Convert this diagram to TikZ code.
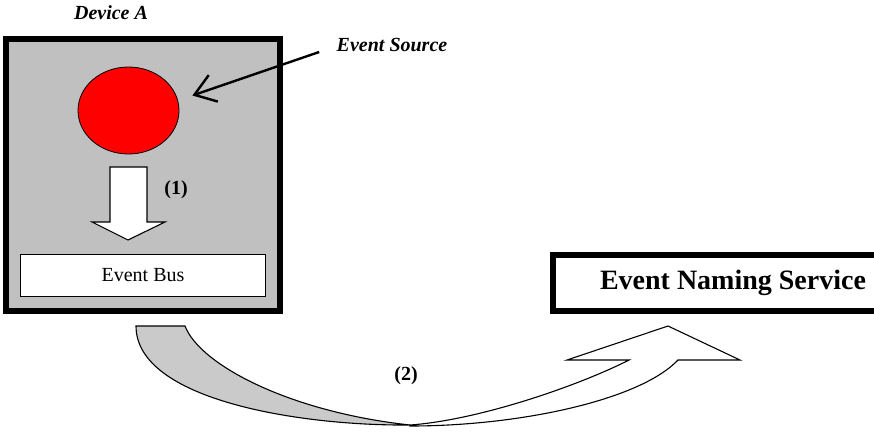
\documentclass[tikz,border=0pt]{standalone}
\usepackage{fontspec}
\setmainfont{Liberation Serif}
\usetikzlibrary{arrows.meta, shapes.geometric, positioning}
\definecolor{boxgray}{HTML}{C0C0C0}
\definecolor{bendgray}{HTML}{CACACA}
\definecolor{sourcered}{HTML}{FF0000}
\tikzset{
  devicebox/.style={draw, line width=5.5pt, fill=boxgray, minimum width=274pt, minimum height=272pt, inner sep=0pt},
  busbox/.style={draw, line width=1.3pt, fill=white, minimum width=245pt, minimum height=42pt, inner sep=0pt},
  servicebox/.style={draw, line width=5.5pt, fill=white, minimum width=360pt, minimum height=56pt, inner sep=0pt},
  pointer/.style={-{Straight Barb[length=20pt, width=28pt]}, line width=2.4pt},
  blockarrow/.style={draw, line width=1.1pt, fill=white},
  label/.style={font=\fontsize{20}{24}\selectfont\bfseries},
  every node/.append style={font=\fontsize{20}{24}\selectfont}
}

\begin{document}
\begin{tikzpicture}[x=1pt, y=-1pt]
\useasboundingbox (0,0) rectangle (874,440);
\clip (0,0) rectangle (874,440);
% device and its parts
\node (device) [devicebox] at (143,175) {};
\node (red) [ellipse, draw, line width=0.8pt, fill=sourcered, minimum width=101pt, minimum height=87pt, inner sep=0pt] at (128.5,110.5) {};
\node (bus) [busbox] at (143,275.5) {Event Bus};
\node (devname) [label, font=\fontsize{20}{24}\selectfont\bfseries\itshape] at (111,13) {Device A};
\node (srcname) [label, font=\fontsize{20}{24}\selectfont\bfseries\itshape] at (392,45) {Event Source};
\coordinate (srctail) at ([shift={(-14,7)}]srcname.west);
\coordinate (srctip) at ([shift={(13,-15)}]red.east);
\draw[pointer] (srctail) -- (srctip);
% step (1)
\draw[blockarrow] (110,167) -- (147,167) -- (147,222) -- (165,222) -- (128,240) -- (92,222) -- (110,222) -- cycle;
\node (one) [label] at (176,190) {(1)};
% naming service
\node (ens) [servicebox, font=\fontsize{28}{32}\selectfont\bfseries] at (733,283) {Event Naming Service};
% step (2)
\draw[line width=1.1pt, fill=bendgray] (136,326) -- (185,326) .. controls (200,365) and (290,412) .. (410,425)
  .. controls (300,426) and (136,400) .. (136,326) -- cycle;
\draw[line width=1.1pt, fill=white] (410,426) .. controls (520,426) and (640,400) .. (678,360) -- (740,360) -- (668,326)
  -- (567,360) -- (629,360) .. controls (580,385) and (480,420) .. (410,425) -- cycle;
\node (two) [label] at (406,376) {(2)};
\end{tikzpicture}
\end{document}
